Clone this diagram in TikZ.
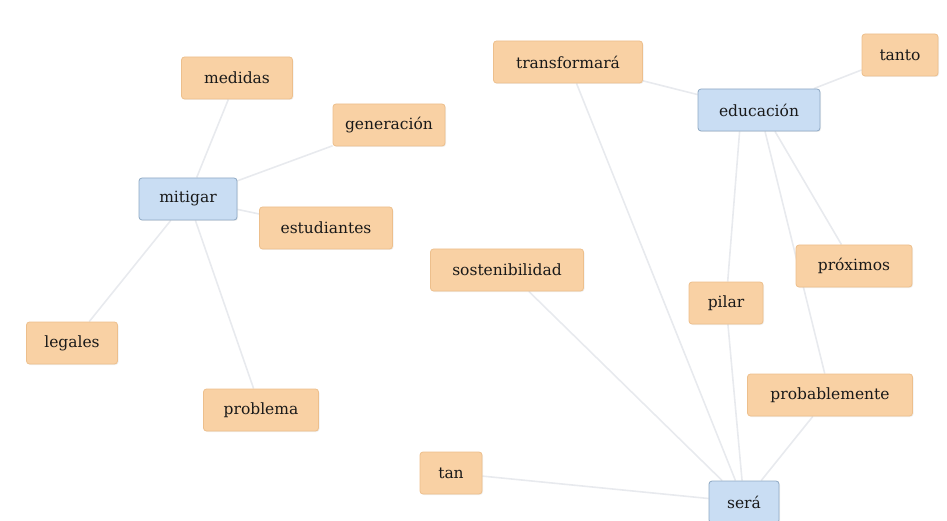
\documentclass[tikz,border=0pt]{standalone}
\usepackage{fontspec}
\setmainfont{DejaVu Serif}
\usetikzlibrary{backgrounds,shadows}
\definecolor{ofill}{HTML}{F9D1A4}
\definecolor{oedge}{HTML}{EDBF8C}
\definecolor{bfill}{HTML}{C9DDF3}
\definecolor{bedge}{HTML}{8FA9C4}
\definecolor{link}{HTML}{E8EAEE}
\tikzset{
  word/.style={rectangle, rounded corners=3pt, fill=ofill, draw=oedge, line width=0.8pt,
    minimum height=42pt, inner xsep=8pt, font=\fontsize{15.5}{17}\selectfont, text=black!90,
    drop shadow={opacity=0.12, shadow xshift=1pt, shadow yshift=-1pt}},
  hub/.style={word, fill=bfill, draw=bedge},
  link/.style={draw=link, line width=1.6pt}
}
\begin{document}
\begin{tikzpicture}[x=1pt,y=-1pt]
\useasboundingbox (0,0) rectangle (947,521);
\node[word, minimum width=111pt] (medidas) at (237,78) {medidas};
\node[word, minimum width=112pt] (generacion) at (389,125) {generación};
\node[hub, minimum width=98pt] (mitigar) at (188,199) {mitigar};
\node[word, minimum width=133pt] (estudiantes) at (326,228) {estudiantes};
\node[word, minimum width=91pt] (legales) at (72,343) {legales};
\node[word, minimum width=115pt] (problema) at (261,410) {problema};
\node[word, minimum width=149pt] (transformara) at (568,62) {transformará};
\node[word, minimum width=76pt] (tanto) at (900,55) {tanto};
\node[hub, minimum width=122pt] (educacion) at (759,110) {educación};
\node[word, minimum width=153pt] (sostenibilidad) at (507,270) {sostenibilidad};
\node[word, minimum width=62pt] (tan) at (451,473) {tan};
\node[word, minimum width=74pt] (pilar) at (726,303) {pilar};
\node[word, minimum width=116pt] (proximos) at (854,266) {próximos};
\node[word, minimum width=165pt] (probablemente) at (830,395) {probablemente};
\node[hub, minimum width=70pt] (sera) at (744,502) {será};
\begin{scope}[on background layer]
\draw[link] (mitigar) -- (medidas);
\draw[link] (mitigar) -- (generacion);
\draw[link] (mitigar) -- (estudiantes);
\draw[link] (mitigar) -- (legales);
\draw[link] (mitigar) -- (problema);
\draw[link] (educacion) -- (transformara);
\draw[link] (educacion) -- (tanto);
\path (educacion.south west) ++(42,0) coordinate (e1);
\draw[link] (e1) -- (pilar);
\path (educacion.south) ++(6,0) coordinate (e2);
\draw[link] (e2) -- (probablemente);
\path (educacion.south) ++(16,0) coordinate (e3);
\draw[link] (e3) -- (proximos);
\draw[link] (sera) -- (transformara);
\draw[link] (sera) -- (sostenibilidad);
\draw[link] (sera) -- (tan);
\draw[link] (sera) -- (pilar);
\draw[link] (sera) -- (probablemente);
\end{scope}
\end{tikzpicture}
\end{document}
